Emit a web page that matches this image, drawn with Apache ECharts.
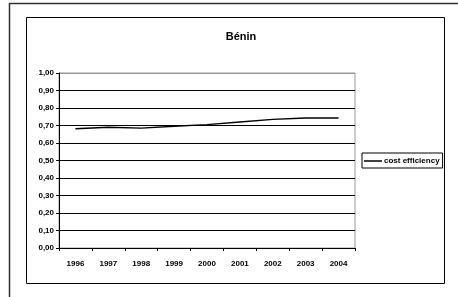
<!DOCTYPE html>
<html>
<head>
<meta charset="utf-8">
<script src="https://cdn.jsdelivr.net/npm/echarts@6/dist/echarts.min.js"></script>
<style>
  html, body { margin: 0; padding: 0; background: #fff; }
  #chart { width: 458px; height: 297px; }
</style>
</head>
<body>
<div id="chart"></div>
<script>
// valeurs
const years = ["1996", "1997", "1998", "1999", "2000", "2001", "2002", "2003", "2004"];
const costEfficiency = [0.681, 0.69, 0.685, 0.696, 0.705, 0.72, 0.735, 0.743, 0.743];
const seriesName = "cost efficiency";

const font = "Liberation Sans, Arial, sans-serif";

let myChart = echarts.init(document.getElementById("chart"));
myChart.setOption({
	animation: false,
	backgroundColor: "#fff",
	title: {
		text: "Bénin",
		left: 236,
		top: 26,
		textAlign: "center",
		textStyle: { fontFamily: font, fontSize: 11, fontWeight: "bold", color: "#000" },
	},
	graphic: [
		{
			type: "rect",
			shape: { x: 9.5, y: 3.5, width: 470, height: 310 },
			style: { fill: null, stroke: "#333", lineWidth: 1.5 },
		},
		{
			type: "rect",
			shape: { x: 26.5, y: 17.5, width: 418, height: 266 },
			style: { fill: null, stroke: "#000", lineWidth: 1 },
		},
	],
	legend: {
		data: [seriesName],
		left: 362,
		top: 153,
		orient: "vertical",
		borderColor: "#000",
		borderWidth: 1,
		borderRadius: 0,
		padding: [4, 3, 3, 2],
		itemGap: 0,
		itemWidth: 18,
		itemHeight: 1.5,
		icon: "rect",
		textStyle: { fontFamily: font, fontSize: 8, fontWeight: "bold", color: "#000", padding: [0, 0, 0, -3] },
	},
	grid: {
		left: 59,
		right: 103,
		top: 73,
		bottom: 49,
		show: true,
		borderColor: "#999",
		borderWidth: 1,
	},
	xAxis: {
		type: "category",
		data: years,
		boundaryGap: true,
		axisLine: { lineStyle: { color: "#000", width: 1 } },
		axisTick: { show: true, length: 3, lineStyle: { color: "#000" } },
		axisLabel: { fontFamily: font, fontSize: 8, fontWeight: "bold", color: "#000", margin: 12 },
	},
	yAxis: {
		type: "value",
		min: 0,
		max: 1,
		interval: 0.1,
		axisLine: { show: true, lineStyle: { color: "#000", width: 1 } },
		axisTick: { show: true, length: 3, lineStyle: { color: "#000" } },
		axisLabel: {
			fontFamily: font,
			fontSize: 8,
			fontWeight: "bold",
			color: "#000",
			margin: 5,
			formatter: (v) => v.toFixed(2).replace(".", ","),
		},
		splitLine: {
			lineStyle: {
				color: ["#000", "#000", "#000", "#000", "#000", "#000", "#000", "#000", "#000", "#000", "#999"],
				width: 1,
			},
		},
	},
	series: [
		{
			name: seriesName,
			type: "line",
			data: costEfficiency,
			showSymbol: false,
			symbol: "none",
			color: "#000",
			lineStyle: { color: "#000", width: 1.5 },
		},
	],
});
</script>
</body>
</html>
